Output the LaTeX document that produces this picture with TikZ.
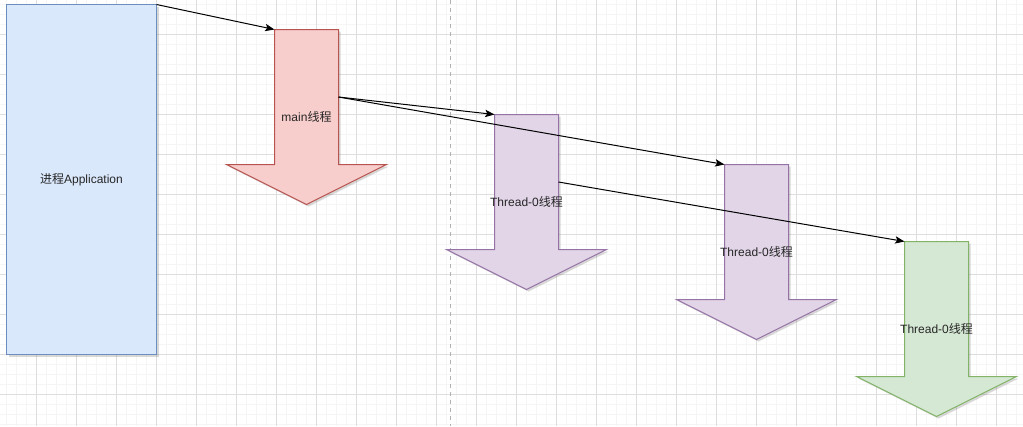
\documentclass[tikz,border=0pt]{standalone}
\usepackage{fontspec}
\setmainfont{Liberation Sans}
\newfontfamily\cjk{Noto Sans CJK SC}
\usetikzlibrary{arrows.meta,shadows}

\definecolor{appfill}{HTML}{DAE8FC}
\definecolor{appline}{HTML}{6C8EBF}
\definecolor{redfill}{HTML}{F8CECC}
\definecolor{redline}{HTML}{B85450}
\definecolor{purplefill}{HTML}{E1D5E7}
\definecolor{purpleline}{HTML}{9673A6}
\definecolor{greenfill}{HTML}{D5E8D4}
\definecolor{greenline}{HTML}{82B366}

\tikzset{
  minorgrid/.style={draw=black!4, line width=0.75pt},
  majorgrid/.style={draw=black!13, line width=0.75pt},
  guide/.style={draw=black!30, line width=0.75pt, dash pattern=on 3pt off 3pt},
  shade/.style={drop shadow={shadow xshift=1.5pt, shadow yshift=-1.5pt, opacity=.25, fill=black!60}},
  appbox/.style={shade, draw=appline, fill=appfill, line width=0.75pt, inner sep=0pt, outer sep=0pt,
    minimum width=112.5pt, minimum height=262.5pt},
  mainarrow/.style={shade, draw=redline, fill=redfill, line width=0.75pt},
  threadarrow/.style={shade, draw=purpleline, fill=purplefill, line width=0.75pt},
  lastarrow/.style={shade, draw=greenline, fill=greenfill, line width=0.75pt},
  lbl/.style={font=\fontsize{9pt}{11pt}\selectfont, text=black!85, inner sep=1pt},
  link/.style={-{Stealth[length=7pt,width=5.5pt,inset=1.5pt]}, line width=0.75pt, draw=black}
}

\begin{document}
\begin{tikzpicture}[x=0.75pt,y=-0.75pt]
\useasboundingbox (0,0) rectangle (1023,426);
\fill[white] (0,0) rectangle (1023,426);

% background grid
\foreach \x in {6.5,16.5,...,1023}
    \draw[minorgrid] (\x,0) -- (\x,426);
\foreach \y in {4.5,14.5,...,426}
    \draw[minorgrid] (0,\y) -- (1023,\y);
\foreach \x in {36.5,76.5,...,1023}
    \draw[majorgrid] (\x,0) -- (\x,426);
\foreach \y in {34.5,74.5,...,426}
    \draw[majorgrid] (0,\y) -- (1023,\y);

\draw[guide] (450.5,0) -- (450.5,426);

% process
\node[appbox] (app) at (81.5,179.5) {};
\node[lbl] (applbl) at (81.5,179.5) {{\cjk 进程}Application};

% threads
\draw[mainarrow, shift={(274.5,29.5)}] (0,0) coordinate (main) -- (64,0) -- (64,67.5) coordinate (mainout)
    -- (64,135) -- (112,135) -- (32,175) -- (-48,135) -- (0,135) -- cycle;
\node[lbl] (mainlbl) at (306.5,117) {main{\cjk 线程}};

\draw[threadarrow, shift={(494.5,114.5)}] (0,0) coordinate (tone) -- (64,0) -- (64,67.5) coordinate (toneout)
    -- (64,135) -- (112,135) -- (32,175) -- (-48,135) -- (0,135) -- cycle;
\node[lbl] (tonelbl) at (526.5,202) {Thread-0{\cjk 线程}};

\draw[threadarrow, shift={(724.5,164.5)}] (0,0) coordinate (ttwo) -- (64,0)
    -- (64,135) -- (112,135) -- (32,175) -- (-48,135) -- (0,135) -- cycle;
\node[lbl] (ttwolbl) at (756.5,252) {Thread-0{\cjk 线程}};

\draw[lastarrow, shift={(904.5,241.5)}] (0,0) coordinate (tthree) -- (64,0)
    -- (64,135) -- (112,135) -- (32,175) -- (-48,135) -- (0,135) -- cycle;
\node[lbl] (tthreelbl) at (936.5,329) {Thread-0{\cjk 线程}};

% connectors
\draw[link] (app.north east) -- (main);
\draw[link] (mainout) -- (tone);
\draw[link] (mainout) -- (ttwo);
\draw[link] (toneout) -- (tthree);
\end{tikzpicture}
\end{document}
